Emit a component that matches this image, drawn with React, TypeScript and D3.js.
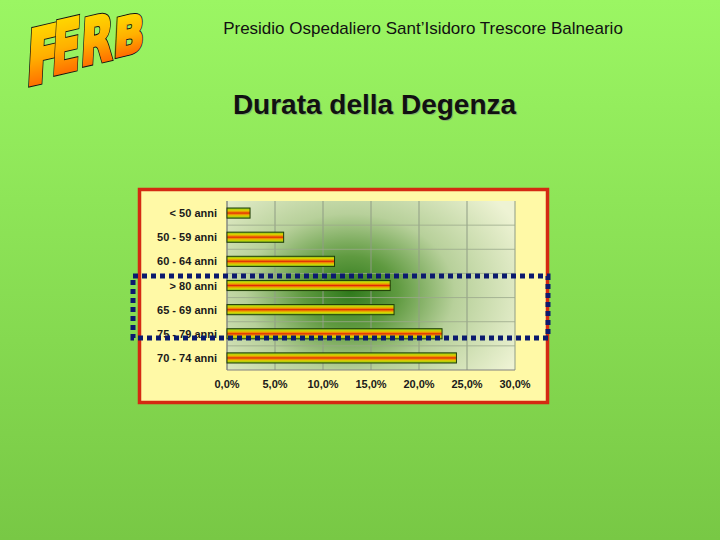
import React from "react";
import * as d3 from "d3";

const categories = ["< 50 anni", "50 - 59 anni", "60 - 64 anni", "> 80 anni", "65 - 69 anni", "75 - 79 anni", "70 - 74 anni"];
const values = [2.4, 5.9, 11.2, 17.0, 17.4, 22.4, 23.9];
const xTicks = [0, 5, 10, 15, 20, 25, 30];
const logoLetters = ["F", "E", "R", "B"];

const W = 720, H = 540;
const plot = { x0: 227, x1: 515, y0: 201, y1: 370 };

export default function App() {
  const x = d3.scaleLinear().domain([0, 30]).range([plot.x0, plot.x1]);
  const y = d3.scaleBand<string>().domain(categories).range([plot.y0, plot.y1]).paddingInner(0.58).paddingOuter(0.29);
  const step = y.step();
  const fmt = (d: number) => d.toFixed(1).replace(".", ",") + "%";
  const font = "'Liberation Sans', Arial, sans-serif";

  // position (left, baseline), cap height, horizontal scale
  const letterPos = [
    { x: 25, y: 86, h: 55, sx: 0.74 },
    { x: 51, y: 75, h: 52, sx: 0.58 },
    { x: 80, y: 66, h: 46, sx: 0.66 },
    { x: 113, y: 57, h: 37, sx: 0.78 },
  ];

  return (
    <svg width={W} height={H} style={{ position: "absolute", left: 0, top: 0 }} xmlns="http://www.w3.org/2000/svg">
      <defs>
        <linearGradient id="bg" x1="0" y1="0" x2="0" y2="1">
          <stop offset="0" stopColor="#9bf663" />
          <stop offset="1" stopColor="#78c845" />
        </linearGradient>
        <linearGradient id="bar" x1="0" y1="0" x2="0" y2="1">
          <stop offset="0" stopColor="#7cbf1e" />
          <stop offset="0.22" stopColor="#d8d400" />
          <stop offset="0.38" stopColor="#f08a00" />
          <stop offset="0.5" stopColor="#e02a08" />
          <stop offset="0.62" stopColor="#f08a00" />
          <stop offset="0.78" stopColor="#d8d400" />
          <stop offset="1" stopColor="#7cbf1e" />
        </linearGradient>
        <radialGradient id="plotbg" gradientUnits="userSpaceOnUse" cx={350} cy={292} r={190} gradientTransform="translate(350 292) scale(1 0.75) translate(-350 -292)">
          <stop offset="0" stopColor="#2f7a1c" />
          <stop offset="0.25" stopColor="#5f9a40" />
          <stop offset="0.55" stopColor="#b7d09a" />
          <stop offset="1" stopColor="#eef3d4" />
        </radialGradient>
        <linearGradient id="logo" x1="0" y1="0" x2="0" y2="1">
          <stop offset="0" stopColor="#ffe600" />
          <stop offset="0.5" stopColor="#ffb000" />
          <stop offset="1" stopColor="#ff4a00" />
        </linearGradient>
      </defs>
      <rect x={0} y={0} width={W} height={H} fill="url(#bg)" />

      {/* logo */}
      {logoLetters.map((l, i) => {
        const p = letterPos[i];
        const fs = p.h / 0.729;
        return (
          <g key={l + i} transform={`translate(${p.x},${p.y}) skewY(-13) skewX(-3) scale(${p.sx},1)`}>
            <text x={0} y={0} fontFamily="'DejaVu Sans', sans-serif" fontWeight="bold" fontSize={fs} fill="#111" stroke="#111" strokeWidth={5} strokeLinejoin="miter">{l}</text>
            <text x={0} y={0} fontFamily="'DejaVu Sans', sans-serif" fontWeight="bold" fontSize={fs} fill="url(#logo)" stroke="url(#logo)" strokeWidth={3} strokeLinejoin="miter">{l}</text>
          </g>
        );
      })}

      <text x={423} y={34} textAnchor="middle" fontFamily={font} fontSize={17} fill="#111">Presidio Ospedaliero Sant’Isidoro Trescore Balneario</text>
      <text x={375.5} y={115} textAnchor="middle" fontFamily={font} fontWeight="bold" fontSize={28} fill="#777" opacity={0.45}>Durata della Degenza</text>
      <text x={374.5} y={114} textAnchor="middle" fontFamily={font} fontWeight="bold" fontSize={28} fill="#111">Durata della Degenza</text>

      {/* chart frame */}
      <rect x={139.5} y={189.5} width={408} height={213} fill="#fff9a6" stroke="#d42a12" strokeWidth={3.5} />
      <rect x={plot.x0} y={plot.y0} width={plot.x1 - plot.x0} height={plot.y1 - plot.y0} fill="url(#plotbg)" />

      {/* gridlines */}
      {xTicks.map((t) => (
        <line key={"gx" + t} x1={x(t)} x2={x(t)} y1={plot.y0} y2={plot.y1} stroke="#8f9c84" strokeWidth={1} />
      ))}
      {categories.slice(1).map((c) => (
        <line key={"gy" + c} x1={plot.x0} x2={plot.x1} y1={(y(c) as number) - (step - y.bandwidth()) / 2} y2={(y(c) as number) - (step - y.bandwidth()) / 2} stroke="#9aa88c" strokeWidth={0.8} />
      ))}
      <line x1={plot.x0} x2={plot.x0} y1={plot.y0} y2={plot.y1} stroke="#808080" />
      <line x1={plot.x0} x2={plot.x1} y1={plot.y1} y2={plot.y1} stroke="#808080" />

      {/* bars */}
      {categories.map((c, i) => (
        <rect key={c} x={x(0)} y={y(c)} width={x(values[i]) - x(0)} height={y.bandwidth()} fill="url(#bar)" stroke="#1f3d08" strokeWidth={1} />
      ))}

      {/* labels */}
      {categories.map((c) => (
        <text key={"l" + c} x={217} y={(y(c) as number) + y.bandwidth() / 2 + 4} textAnchor="end" fontFamily={font} fontWeight="bold" fontSize={11} fill="#1a1a1a">{c}</text>
      ))}
      {xTicks.map((t) => (
        <text key={"t" + t} x={x(t)} y={388} textAnchor="middle" fontFamily={font} fontWeight="bold" fontSize={11} fill="#1a1a1a">{fmt(t)}</text>
      ))}

      {/* dotted highlight */}
      <rect x={133} y={276} width={415} height={62} fill="none" stroke="#0b1a6e" strokeWidth={5} strokeDasharray="5 4" />
    </svg>
  );
}
